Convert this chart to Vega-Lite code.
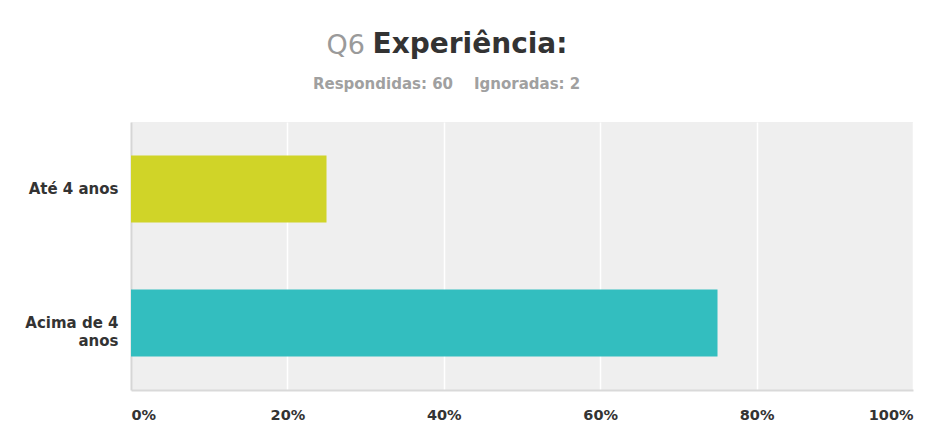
{
  "$schema": "https://vega.github.io/schema/vega-lite/v6.json",
  "autosize": "none",
  "width": 782,
  "height": 268,
  "padding": {"left": 131, "top": 122, "right": 20, "bottom": 45},
  "background": "white",
  "data": {"values": [
    {"resposta": "Até 4 anos", "pct": 0.25},
    {"resposta": "Acima de 4 anos", "pct": 0.75}
  ]},
  "title": {
    "text": "Experiência:",
    "subtitle": "Respondidas: 60\u00a0\u00a0\u00a0\u00a0Ignoradas: 2\u2800\u2800\u2800\u2800",
    "anchor": "middle",
    "frame": "group",
    "dx": -52,
    "dy": 61,
    "offset": 0,
    "font": "DejaVu Sans",
    "fontSize": 28,
    "fontWeight": "bold",
    "color": "#333333",
    "subtitleFont": "DejaVu Sans",
    "subtitleFontSize": 15,
    "subtitleFontWeight": "bold",
    "subtitleColor": "#a0a0a0",
    "subtitlePadding": 18
  },
  "mark": {"type": "bar"},
  "encoding": {
    "y": {
      "field": "resposta",
      "type": "nominal",
      "sort": null,
      "scale": {"paddingInner": 0.5, "paddingOuter": 0.25},
      "axis": {
        "title": "Q6",
        "titleAngle": 0,
        "titleAlign": "left",
        "titleBaseline": "alphabetic",
        "titleX": 195,
        "titleY": -69,
        "titleFont": "DejaVu Sans",
        "titleFontSize": 27,
        "titleFontWeight": "normal",
        "titleColor": "#9a9a9a",
        "labelExpr": "datum.label == 'Acima de 4 anos' ? ['Acima de 4', 'anos'] : datum.label",
        "labelFont": "DejaVu Sans",
        "labelFontSize": 15,
        "labelFontWeight": "bold",
        "labelColor": "#333333",
        "labelPadding": 13,
        "labelLineHeight": 18,
        "ticks": false,
        "domainColor": "#d6d6d6",
        "domainWidth": 2,
        "labelLimit": 200
      }
    },
    "x": {
      "field": "pct",
      "type": "quantitative",
      "scale": {"domain": [0, 1], "nice": false},
      "axis": {
        "title": null,
        "format": ".0%",
        "values": [0, 0.2, 0.4, 0.6, 0.8, 1],
        "labelFlush": true,
        "labelFont": "DejaVu Sans",
        "labelFontSize": 14.5,
        "labelFontWeight": "bold",
        "labelColor": "#333333",
        "labelPadding": 18,
        "ticks": false,
        "domainColor": "#d9d9d9",
        "domainWidth": 2,
        "grid": true,
        "gridColor": "#ffffff",
        "gridWidth": 1.5
      }
    },
    "color": {
      "field": "resposta",
      "type": "nominal",
      "scale": {"domain": ["Até 4 anos", "Acima de 4 anos"], "range": ["#D0D428", "#33BEBF"]},
      "legend": null
    }
  },
  "config": {
    "view": {"fill": "#efefef", "stroke": null}
  }
}
